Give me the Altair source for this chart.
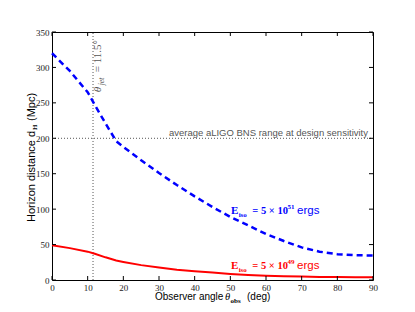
import altair as alt
import pandas as pd

# ---- data ----
angle_deg = [0, 5, 10, 12, 15, 18, 20, 25, 30, 35, 40, 45, 50, 55, 60, 65, 70, 75, 80, 85, 90]
d_high = [320, 295, 265, 247, 221, 196, 188, 169, 151, 134, 118, 103, 89, 77, 65, 55, 46, 40, 36.5, 35, 34.5]
d_low = [49, 45, 40, 37, 32, 27.5, 25.5, 21, 17.5, 14.5, 12.5, 10.5, 8.5, 7, 6, 5.3, 4.8, 4.4, 4.1, 3.9, 3.8]
x_ticks = [0, 10, 20, 30, 40, 50, 60, 70, 80, 90]
y_ticks = [0, 50, 100, 150, 200, 250, 300, 350]
theta_jet = 11.5
bns_range = 200
bns_label = "average aLIGO BNS range at design sensitivity"
label_high = ["E", "iso", "= 5 × 10", "51", "ergs"]
label_low = ["E", "iso", "= 5 × 10", "49", "ergs"]
jet_label = ["θ", "jet", "= 11.5°"]
ytitle = ["Horizon distance d", "H", "(Mpc)"]
xtitle = ["Observer angle", "θ", "obs", "(deg)"]

W, H = 321, 248
SERIF = "Liberation Serif"
SANS = "Liberation Sans"
xs = alt.Scale(domain=[0, 90], nice=False, zero=False)
ys = alt.Scale(domain=[0, 350], nice=False, zero=True)

df_high = pd.DataFrame({"a": angle_deg, "d": d_high})
df_low = pd.DataFrame({"a": angle_deg, "d": d_low})

xaxis = alt.Axis(values=x_ticks, title=None, ticks=False, domain=False, grid=False,
                 labelFont=SERIF, labelFontSize=9, labelColor="#222", labelPadding=3,
                 labelFlush=False, labelAngle=0, labelOverlap=False)
yaxis = alt.Axis(values=y_ticks, title=None, ticks=False, domain=False, grid=False,
                 labelFont=SERIF, labelFontSize=9, labelColor="#222", labelPadding=3,
                 labelFlush=False, labelOverlap=False)


def X(field):
    return alt.X(field, scale=xs, axis=xaxis)


def Y(field):
    return alt.Y(field, scale=ys, axis=yaxis)


blue = alt.Chart(df_high).mark_line(color="#0000ff", strokeWidth=2.5, strokeDash=[6, 4]).encode(
    x=X("a:Q"), y=Y("d:Q"))
red = alt.Chart(df_low).mark_line(color="#ff0000", strokeWidth=2).encode(
    x=X("a:Q"), y=Y("d:Q"))

one = pd.DataFrame({"k": [0]})

hline = alt.Chart(pd.DataFrame({"y": [bns_range], "x0": [0], "x1": [90]})).mark_rule(
    color="#555", strokeWidth=1, strokeDash=[1, 2]).encode(
    x=X("x0:Q"), x2="x1:Q", y=Y("y:Q"))
vline = alt.Chart(pd.DataFrame({"x": [theta_jet], "y0": [0], "y1": [350]})).mark_rule(
    color="#555", strokeWidth=1, strokeDash=[1, 2]).encode(
    x=X("x:Q"), y=Y("y0:Q"), y2="y1:Q")

bns_text = alt.Chart(pd.DataFrame({"x": [90], "y": [bns_range], "t": [bns_label]})).mark_text(
    font=SANS, fontSize=9.5, color="#555", align="right", baseline="alphabetic", dx=-5, dy=-2).encode(
    x=X("x:Q"), y=Y("y:Q"), text="t:N")

# inward ticks on all four sides
xt = pd.DataFrame({"v": x_ticks})
yt = pd.DataFrame({"v": y_ticks})
tick_layers = [
    alt.Chart(xt).mark_rule(color="black", strokeWidth=1).encode(
        x=X("v:Q"), y=alt.value(H), y2=alt.value(H - 4)),
    alt.Chart(xt).mark_rule(color="black", strokeWidth=1).encode(
        x=X("v:Q"), y=alt.value(0), y2=alt.value(4)),
    alt.Chart(yt).mark_rule(color="black", strokeWidth=1).encode(
        y=Y("v:Q"), x=alt.value(0), x2=alt.value(4)),
    alt.Chart(yt).mark_rule(color="black", strokeWidth=1).encode(
        y=Y("v:Q"), x=alt.value(W), x2=alt.value(W - 4)),
]


def part_at(ax, ay, text, dx, dy, size, font, color, weight="normal", style="normal", angle=0):
    return alt.Chart(pd.DataFrame({"x": [ax], "y": [ay]})).mark_text(
        text=text, dx=dx, dy=dy, fontSize=size, font=font, color=color, fontWeight=weight,
        fontStyle=style, align="left", baseline="alphabetic", angle=angle).encode(
        x=X("x:Q"), y=Y("y:Q"))


def part_px(px, py, text, dx, dy, size, font, color, weight="normal", style="normal", angle=0):
    return alt.Chart(one).mark_text(
        text=text, dx=dx, dy=dy, fontSize=size, font=font, color=color, fontWeight=weight,
        fontStyle=style, align="left", baseline="alphabetic", angle=angle).encode(
        x=alt.value(px), y=alt.value(py))


def e_label(ay, parts, color):
    return [
        part_at(50.2, ay, parts[0], 0, 0, 11, SERIF, color, weight="bold"),
        part_at(50.2, ay, parts[1], 7.6, 2.5, 7, SERIF, color, weight="bold"),
        part_at(50.2, ay, parts[2], 21.3, 0, 10.5, SERIF, color, weight="bold"),
        part_at(50.2, ay, parts[3], 56.5, -5, 7, SERIF, color, weight="bold"),
        part_at(50.2, ay, parts[4], 66, 0, 11.5, SANS, color),
    ]


label_layers = e_label(93, label_high, "#0000ff") + e_label(15.5, label_low, "#ff0000")

jet_layers = [
    part_at(13.8, 265, jet_label[0], 0, 0, 11, SERIF, "#555", style="italic", angle=270),
    part_at(13.8, 265, jet_label[1], 7, 2.5, 7.5, SERIF, "#555", style="italic", angle=270),
    part_at(13.8, 265, jet_label[2], 20, 0, 11, SERIF, "#555", angle=270),
]

title_layers = [
    part_px(-17.5, 190, ytitle[0], 0, 0, 11, SANS, "black", angle=270),
    part_px(-17.5, 190, ytitle[1], 92, 2.5, 7, SERIF, "black", weight="bold", angle=270),
    part_px(-17.5, 190, ytitle[2], 101, 0, 11, SANS, "black", angle=270),
    part_px(103, 268, xtitle[0], 0, 0, 10, SANS, "black"),
    part_px(103, 268, xtitle[1], 70, 0, 10.5, SERIF, "black", style="italic"),
    part_px(103, 268, xtitle[2], 75.5, 2.5, 7, SERIF, "black", weight="bold"),
    part_px(103, 268, xtitle[3], 92, 0, 10, SANS, "black"),
]

chart = alt.layer(
    hline, vline, bns_text, red, blue, *tick_layers, *label_layers, *jet_layers, *title_layers
).properties(
    width=W, height=H,
    autosize=alt.AutoSizeParams(type="none"),
    padding={"left": 44, "top": 24, "right": 30, "bottom": 24},
    background="white",
).configure_view(stroke="black", strokeWidth=1)

chart.save("out.html", embed_options={"renderer": "svg", "actions": False})
